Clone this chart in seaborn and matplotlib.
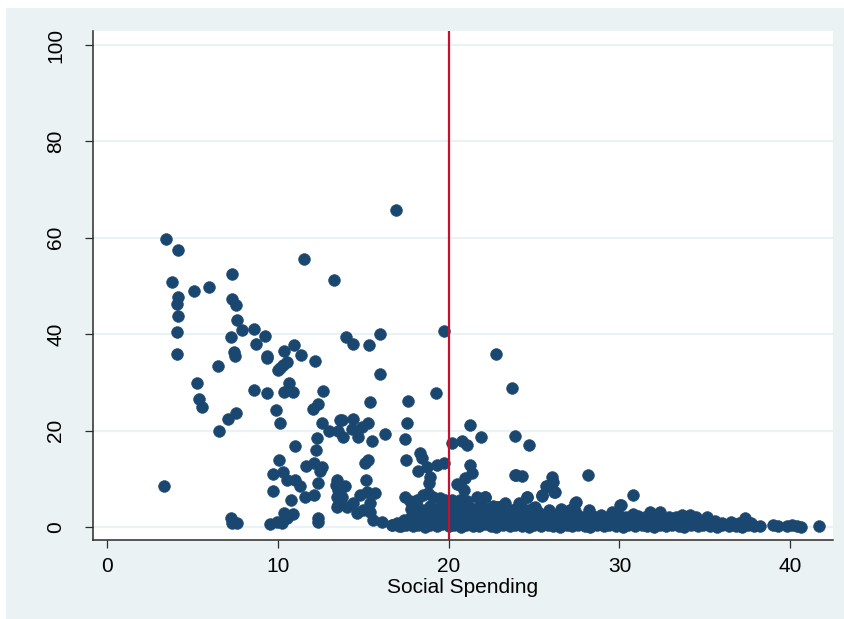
import matplotlib
matplotlib.use("Agg")
import matplotlib.pyplot as plt
from matplotlib.patches import Rectangle
import seaborn as sns
import pandas as pd

# Social spending (x) against outcome (y): scattered upper region
spend_upper = [
    3.45, 4.13, 3.83, 5.07, 5.99, 7.34, 4.13, 4.08, 4.13, 4.08, 4.10,
    7.34, 7.57, 7.59, 7.90, 7.24, 8.59, 9.25, 8.72, 7.45, 7.50, 9.35, 9.35,
    6.52, 10.38, 10.93, 11.38, 12.18, 10.52, 10.32, 10.13, 10.03,
    11.55, 13.27, 5.25, 5.37, 5.58, 8.61, 9.39, 10.67, 10.36, 10.87,
    12.62, 12.33, 12.04, 9.91, 10.11, 7.55, 7.07, 6.57, 12.57, 13.64,
    13.00, 13.55, 12.31, 12.22, 11.00, 10.07, 9.74, 10.32, 10.56, 11.00,
    11.30, 11.63, 12.12, 12.57, 12.47, 12.35, 9.72, 10.76, 11.59, 12.12,
    3.34, 10.36, 10.91, 10.52, 9.54, 9.93, 10.23, 7.24, 7.30, 7.59,
    12.35, 12.33, 13.45, 13.45, 13.45, 13.48,
    16.90, 13.97, 14.42, 15.34, 15.96, 19.71, 22.78, 23.73, 15.96,
    15.38, 17.60, 19.26, 13.74, 14.42, 15.30, 14.91, 14.36, 13.83, 14.68,
    15.50, 16.28, 17.58, 17.43, 21.27, 21.88, 23.87, 20.18, 20.80, 21.06,
    17.50, 18.33, 18.42, 18.23, 18.72, 19.30, 19.73, 18.91, 18.87,
    15.11, 15.30, 15.18, 21.25, 21.35, 20.96, 20.47, 20.90, 23.90,
    13.41, 13.54, 13.93, 13.74, 13.54, 14.03, 14.42, 14.81, 15.20, 15.69,
    15.40, 15.00, 14.62, 15.40, 15.59, 16.08, 16.67,
    17.45, 17.74, 18.13, 18.52, 18.81, 19.11, 19.50, 19.79, 20.18, 20.67,
    21.06, 21.65, 22.13, 22.82, 24.09,
    24.69, 23.93, 24.30, 26.05, 28.14, 25.70, 26.19, 25.47, 24.57, 24.18,
    24.96, 23.00, 27.46, 30.80, 30.04, 29.55, 27.10, 22.10, 22.90, 24.20,
    24.60, 25.06, 25.45, 25.74, 26.13, 26.23, 27.40, 30.08, 20.67,
]
share_upper = [
    59.8, 57.5, 50.8, 49.0, 49.7, 52.4, 47.7, 46.2, 43.7, 40.5, 35.9,
    47.3, 46.0, 42.9, 40.8, 39.5, 41.1, 39.7, 37.9, 36.2, 35.5, 35.5, 35.0,
    33.5, 36.6, 37.7, 35.7, 34.4, 34.3, 33.6, 32.9, 32.6,
    55.5, 51.2, 29.8, 26.6, 24.8, 28.4, 27.9, 29.8, 28.1, 28.1,
    28.2, 25.6, 24.4, 24.3, 21.6, 23.6, 22.5, 20.0, 21.5, 22.1,
    20.0, 20.0, 18.4, 16.0, 16.8, 13.8, 11.0, 11.5, 9.75, 9.75,
    8.4, 12.7, 13.2, 12.4, 11.7, 9.1, 7.5, 5.7, 6.2, 6.6,
    8.6, 2.8, 2.7, 1.8, 0.6, 1.1, 0.8, 1.9, 0.9, 0.9,
    1.8, 1.1, 9.75, 8.4, 6.3, 4.2,
    65.7, 39.4, 38.0, 37.8, 40.1, 40.6, 35.8, 28.8, 31.7,
    25.9, 26.1, 27.9, 22.2, 22.3, 21.5, 20.8, 20.3, 18.6, 18.7,
    17.9, 19.2, 21.5, 18.2, 21.2, 18.7, 18.9, 17.4, 17.9, 17.0,
    14.0, 15.3, 14.3, 11.6, 12.5, 12.9, 13.3, 10.4, 9.1,
    13.3, 14.0, 9.75, 12.9, 11.1, 10.1, 8.9, 7.7, 10.8,
    8.7, 7.7, 8.4, 6.3, 4.6, 4.2, 4.9, 6.6, 7.3, 7.0,
    4.9, 3.5, 2.8, 3.2, 1.5, 1.1, 0.4,
    6.3, 5.3, 5.6, 6.6, 7.0, 6.3, 6.0, 5.6, 5.7, 5.6,
    5.3, 6.3, 6.2, 4.2, 4.9,
    17.0, 10.7, 10.6, 10.4, 10.7, 8.5, 7.3, 6.5, 6.2, 4.6,
    4.0, 4.2, 5.1, 6.7, 4.6, 3.2, 3.5, 6.3, 4.2, 4.6,
    6.3, 4.2, 6.6, 8.4, 9.4, 7.3, 5.0, 4.6, 8.7,
]

# Dense band of low values at higher spending levels
spend_band = [
    17.1, 17.5, 17.9, 18.2, 18.6, 18.9, 19.3, 19.6, 20.0, 20.3, 20.7, 21.0,
    21.4, 21.8, 22.1, 22.5, 22.8, 23.2, 23.6, 23.9, 24.3, 24.7, 25.0, 25.4,
    25.8, 26.1, 26.5, 26.9, 27.2, 27.6, 28.0, 28.3, 28.7, 29.1, 29.4, 29.8,
    30.2, 30.5, 30.9, 31.3, 31.6, 32.0, 32.4, 32.7, 33.1, 33.5, 33.8, 34.2,
    34.6, 34.9, 35.3, 35.7, 36.0, 36.4, 36.8, 37.2, 37.5, 37.9, 38.2, 39.0,
    39.3, 39.8, 40.1, 40.4, 40.6, 41.7,
    17.6, 18.0, 18.4, 18.8, 19.1, 19.5, 19.9, 20.2, 20.6, 21.0, 21.3, 21.7,
    22.1, 22.4, 22.8, 23.2, 23.5, 23.9, 24.3, 24.6, 25.0, 25.4, 25.7, 26.1,
    26.5, 26.8, 27.2, 27.6, 27.9, 28.3, 28.7, 29.0, 29.4, 29.8, 30.1, 30.5,
    30.9, 31.2, 31.6, 32.0, 32.3, 32.7, 33.1, 33.4, 33.8, 34.2, 34.5, 34.9,
    35.3, 35.6, 36.0, 36.5, 37.0, 37.35, 37.7,
    18.3, 18.7, 19.0, 19.4, 19.8, 20.1, 20.5, 20.9, 21.2, 21.6, 22.0, 22.3,
    22.7, 23.1, 23.4, 23.8, 24.2, 24.5, 24.9, 25.3, 25.6, 26.0, 26.4, 26.7,
    27.1, 27.5, 27.8, 28.47, 28.9, 29.3, 30.0, 30.4, 30.8, 31.1, 31.5, 31.8,
    32.2, 32.4, 32.9, 33.3, 33.65, 34.1, 34.5, 35.1,
    17.8, 18.1, 18.5, 18.9, 19.2, 19.6, 20.0, 20.4, 20.8, 21.2, 21.5, 21.9,
    22.3, 22.6, 23.0, 23.3, 23.7, 24.0, 24.6, 25.2, 25.9, 26.6, 27.4, 28.2,
    16.7, 17.0, 17.2, 17.4, 17.6, 17.8,
]
share_band = [
    0.3, 0.5, 0.2, 0.4, 0.1, 0.5, 0.3, 0.6, 0.2, 0.4, 0.1, 0.5,
    0.3, 0.2, 0.6, 0.3, 0.1, 0.4, 0.2, 0.5, 0.3, 0.1, 0.4, 0.2,
    0.5, 0.3, 0.1, 0.4, 0.2, 0.5, 0.3, 0.1, 0.4, 0.2, 0.5, 0.3,
    0.1, 0.4, 0.2, 0.5, 0.3, 0.1, 0.4, 0.2, 0.5, 0.3, 0.1, 0.4,
    0.2, 0.5, 0.3, 0.1, 0.4, 0.2, 0.3, 0.1, 0.4, 0.2, 0.3, 0.4,
    0.2, 0.3, 0.5, 0.2, 0.1, 0.2,
    1.4, 1.0, 1.6, 1.2, 1.8, 1.1, 1.5, 1.0, 1.7, 1.3, 1.9, 1.1,
    1.5, 1.0, 1.8, 1.2, 1.6, 1.0, 1.4, 1.9, 1.1, 1.5, 1.0, 1.7,
    1.2, 1.5, 1.0, 1.8, 1.3, 1.1, 1.6, 1.0, 1.4, 1.8, 1.1, 1.5,
    1.0, 1.7, 1.2, 1.4, 1.0, 1.6, 1.1, 1.3, 1.0, 1.5, 1.1, 1.3,
    0.9, 1.2, 0.9, 1.1, 0.8, 1.8, 0.9,
    2.6, 3.2, 2.3, 3.0, 2.5, 3.4, 2.2, 2.9, 2.4, 3.3, 2.6, 3.0,
    2.3, 3.1, 2.5, 2.9, 2.2, 2.7, 2.4, 2.9, 2.3, 2.6, 2.2, 2.8,
    3.5, 2.4, 2.1, 2.3, 2.5, 2.1, 2.4, 2.0, 2.6, 2.2, 2.0, 3.2,
    2.3, 3.2, 2.1, 2.0, 2.5, 2.5, 2.0, 2.1,
    3.8, 4.6, 3.6, 4.3, 3.7, 4.8, 3.9, 4.5, 3.6, 4.2, 3.8, 4.7,
    3.7, 4.4, 3.6, 4.9, 3.5, 3.9, 3.6, 3.4, 3.5, 3.7, 3.3, 3.6,
    0.4, 0.8, 0.3, 1.5, 0.6, 2.0,
]

x_ticks = [0, 10, 20, 30, 40]
y_ticks = [0, 20, 40, 60, 80, 100]
threshold = 20
x_title = "Social Spending"

df = pd.DataFrame({
    "spending": spend_upper + spend_band,
    "share": share_upper + share_band,
})

navy = "#1A476F"
region_bg = "#EAF2F3"
axis_col = "#2b2b2b"

sns.set_theme(style="white")
plt.rcParams["font.family"] = ["Liberation Sans Narrow", "Liberation Sans", "DejaVu Sans"]

fig = plt.figure(figsize=(8.44, 6.19), dpi=100, facecolor=region_bg)
# thin white margin on the top and left edges of the graph region
fig.patches.append(Rectangle((0, 1 - 8 / 619), 1, 8 / 619, transform=fig.transFigure,
                             facecolor="white", edgecolor="none", zorder=0))
fig.patches.append(Rectangle((0, 0), 6 / 844, 1, transform=fig.transFigure,
                             facecolor="white", edgecolor="none", zorder=0))

ax = fig.add_axes([93 / 844, (619 - 540) / 619, (833 - 93) / 844, (540 - 31) / 619])
ax.set_facecolor("white")

for yv in y_ticks:
    ax.axhline(yv, color=region_bg, lw=1.6, zorder=0)

sns.scatterplot(data=df, x="spending", y="share", ax=ax, color=navy,
                s=72, edgecolor=navy, linewidth=0.4, alpha=1, zorder=3)

# reference line at the threshold, drawn over the markers
ax.axvline(threshold, color="#C8102E", lw=1.6, zorder=4)

ax.set_xlim(-0.82, 42.5)
ax.set_ylim(-2.7, 102.9)
ax.set_xticks(x_ticks)
ax.set_yticks(y_ticks)
ax.set_xticklabels([str(v) for v in x_ticks], fontsize=15)
ax.set_yticklabels([str(v) for v in y_ticks], fontsize=15, rotation=90, va="center")
ax.set_xlabel(x_title, fontsize=15, labelpad=2, color="black")
ax.set_ylabel("")

for side in ["top", "right"]:
    ax.spines[side].set_visible(False)
for side in ["left", "bottom"]:
    ax.spines[side].set_color(axis_col)
    ax.spines[side].set_linewidth(1.1)

ax.tick_params(axis="both", direction="out", length=6, width=0.9, color=axis_col,
               labelcolor="black", bottom=True, left=True)
ax.tick_params(axis="x", pad=6)
ax.tick_params(axis="y", pad=14)

fig.savefig("out.png", dpi=100, facecolor=fig.get_facecolor())
